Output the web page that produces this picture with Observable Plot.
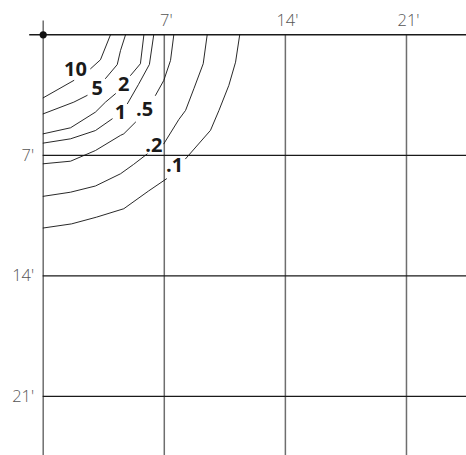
<!DOCTYPE html>
<html>
<head>
<meta charset="utf-8">
<script src="https://cdn.jsdelivr.net/npm/d3@7"></script>
<script src="https://cdn.jsdelivr.net/npm/@observablehq/plot@0.6"></script>
<style>
  html, body { margin: 0; padding: 0; background: #fff; }
  #chart svg { display: block; }
</style>
</head>
<body>
<div id="chart"></div>
<script>
// Grid ticks (feet)
const gridTicks = [7, 14, 21];
const tickLabels = ["7'", "14'", "21'"];

// Isolux contour levels and labels
const levels = ["10", "5", "2", "1", ".5", ".2", ".1"];

// Contour polylines (x ft, y ft), each level split in two by its label
const c10a = [[3.89,0],[3.31,1.45],[2.74,1.97]];
const c10b = [[1.77,2.65],[0,3.66]];
const c5a  = [[4.76,0],[4.47,0.91],[4.28,1.73],[3.60,2.54]];
const c5b  = [[2.54,3.52],[1.77,3.91],[0,4.59]];
const c2a  = [[5.82,0],[5.62,1.68],[5.05,2.36]];
const c2b  = [[4.18,3.42],[3.60,3.91],[3.02,4.49],[1.58,5.40],[0,5.75]];
const c1a  = [[6.39,0],[6.14,1.72],[5.51,2.88],[4.87,4.00]];
const c1b  = [[3.99,4.88],[3.02,5.56],[1.58,6.04],[0,6.29]];
const c05a = [[7.55,0],[7.36,1.49],[6.97,2.65],[6.49,3.52]];
const c05b = [[5.34,5.07],[4.66,5.75],[4.47,5.84],[3.02,6.72],[1.58,7.34],[0,7.49]];
const c02a = [[9.48,0],[9.25,1.68],[8.71,3.13],[8.23,4.39],[7.84,4.92],[6.97,6.33]];
const c02b = [[6.01,6.92],[5.22,7.53],[4.47,8.07],[3.02,8.78],[1.58,9.14],[0,9.38]];
const c01a = [[11.36,0],[11.12,1.59],[10.73,2.94],[10.16,4.39],[9.67,5.55],[8.23,7.20]];
const c01b = [[7.13,8.36],[6.09,9.07],[4.66,10.10],[3.08,10.59],[1.64,10.98],[0,11.22]];

// Label positions (ft)
const labelX = [1.87, 3.12, 4.66, 4.47, 5.86, 6.39, 7.60];
const labelY = [2.04, 3.13, 2.90, 4.49, 4.34, 6.45, 7.62];

const segments = [
  ["10a", c10a], ["10b", c10b], ["5a", c5a], ["5b", c5b],
  ["2a", c2a], ["2b", c2b], ["1a", c1a], ["1b", c1b],
  [".5a", c05a], [".5b", c05b], [".2a", c02a], [".2b", c02b],
  [".1a", c01a], [".1b", c01b]
];
const lineData = segments.flatMap(([id, pts]) => pts.map(([x, y]) => ({id, x, y})));
const labelData = levels.map((t, i) => ({t, x: labelX[i], y: labelY[i]}));
const tickData = gridTicks.map((v, i) => ({v, t: tickLabels[i]}));

const xMax = 24.47, yMax = 24.43;

const chart = Plot.plot({
  width: 466,
  height: 455,
  margin: 0,
  x: {domain: [0, xMax], range: [42.7, 466], axis: null},
  y: {domain: [0, yMax], range: [34.3, 455], axis: null},
  style: {background: "#fff", overflow: "visible"},
  marks: [
    // vertical grid lines (gray)
    Plot.ruleX([0], {x: d => d, y1: -0.8, y2: yMax, stroke: "#6e6e6e", strokeWidth: 1.5}),
    Plot.ruleX(gridTicks, {x: d => d, y1: 0, y2: yMax, stroke: "#6e6e6e", strokeWidth: 1.5}),
    // horizontal grid lines (black)
    Plot.ruleY([0], {y: d => d, x1: -0.78, x2: xMax, stroke: "#1a1a1a", strokeWidth: 1.4}),
    Plot.ruleY(gridTicks, {y: d => d, x1: 0, x2: xMax, stroke: "#1a1a1a", strokeWidth: 1.3}),
    // contours
    Plot.line(lineData, {x: "x", y: "y", z: "id", stroke: "#111", strokeWidth: 0.9, curve: "linear"}),
    // origin dot
    Plot.dot([[0, 0]], {x: d => d[0], y: d => d[1], r: 3.6, fill: "#111", stroke: "none"}),
    // contour labels
    Plot.text(labelData, {x: "x", y: "y", text: "t", fontFamily: "Open Sans", fontWeight: "bold", fontSize: 20, fill: "#1a1a1a", textAnchor: "middle", lineAnchor: "middle"}),
    // top tick labels
    Plot.text(tickData, {x: "v", y: () => 0, text: "t", dx: 2, dy: -9, lineAnchor: "bottom", textAnchor: "middle", fontFamily: "Open Sans", fontWeight: 300, fontSize: 16.5, fill: "#555"}),
    // left tick labels
    Plot.text(tickData, {x: () => 0, y: "v", text: "t", dx: -9, dy: 0, lineAnchor: "middle", textAnchor: "end", fontFamily: "Open Sans", fontWeight: 300, fontSize: 16.5, fill: "#555"})
  ]
});
document.getElementById("chart").appendChild(chart);
</script>
</body>
</html>
